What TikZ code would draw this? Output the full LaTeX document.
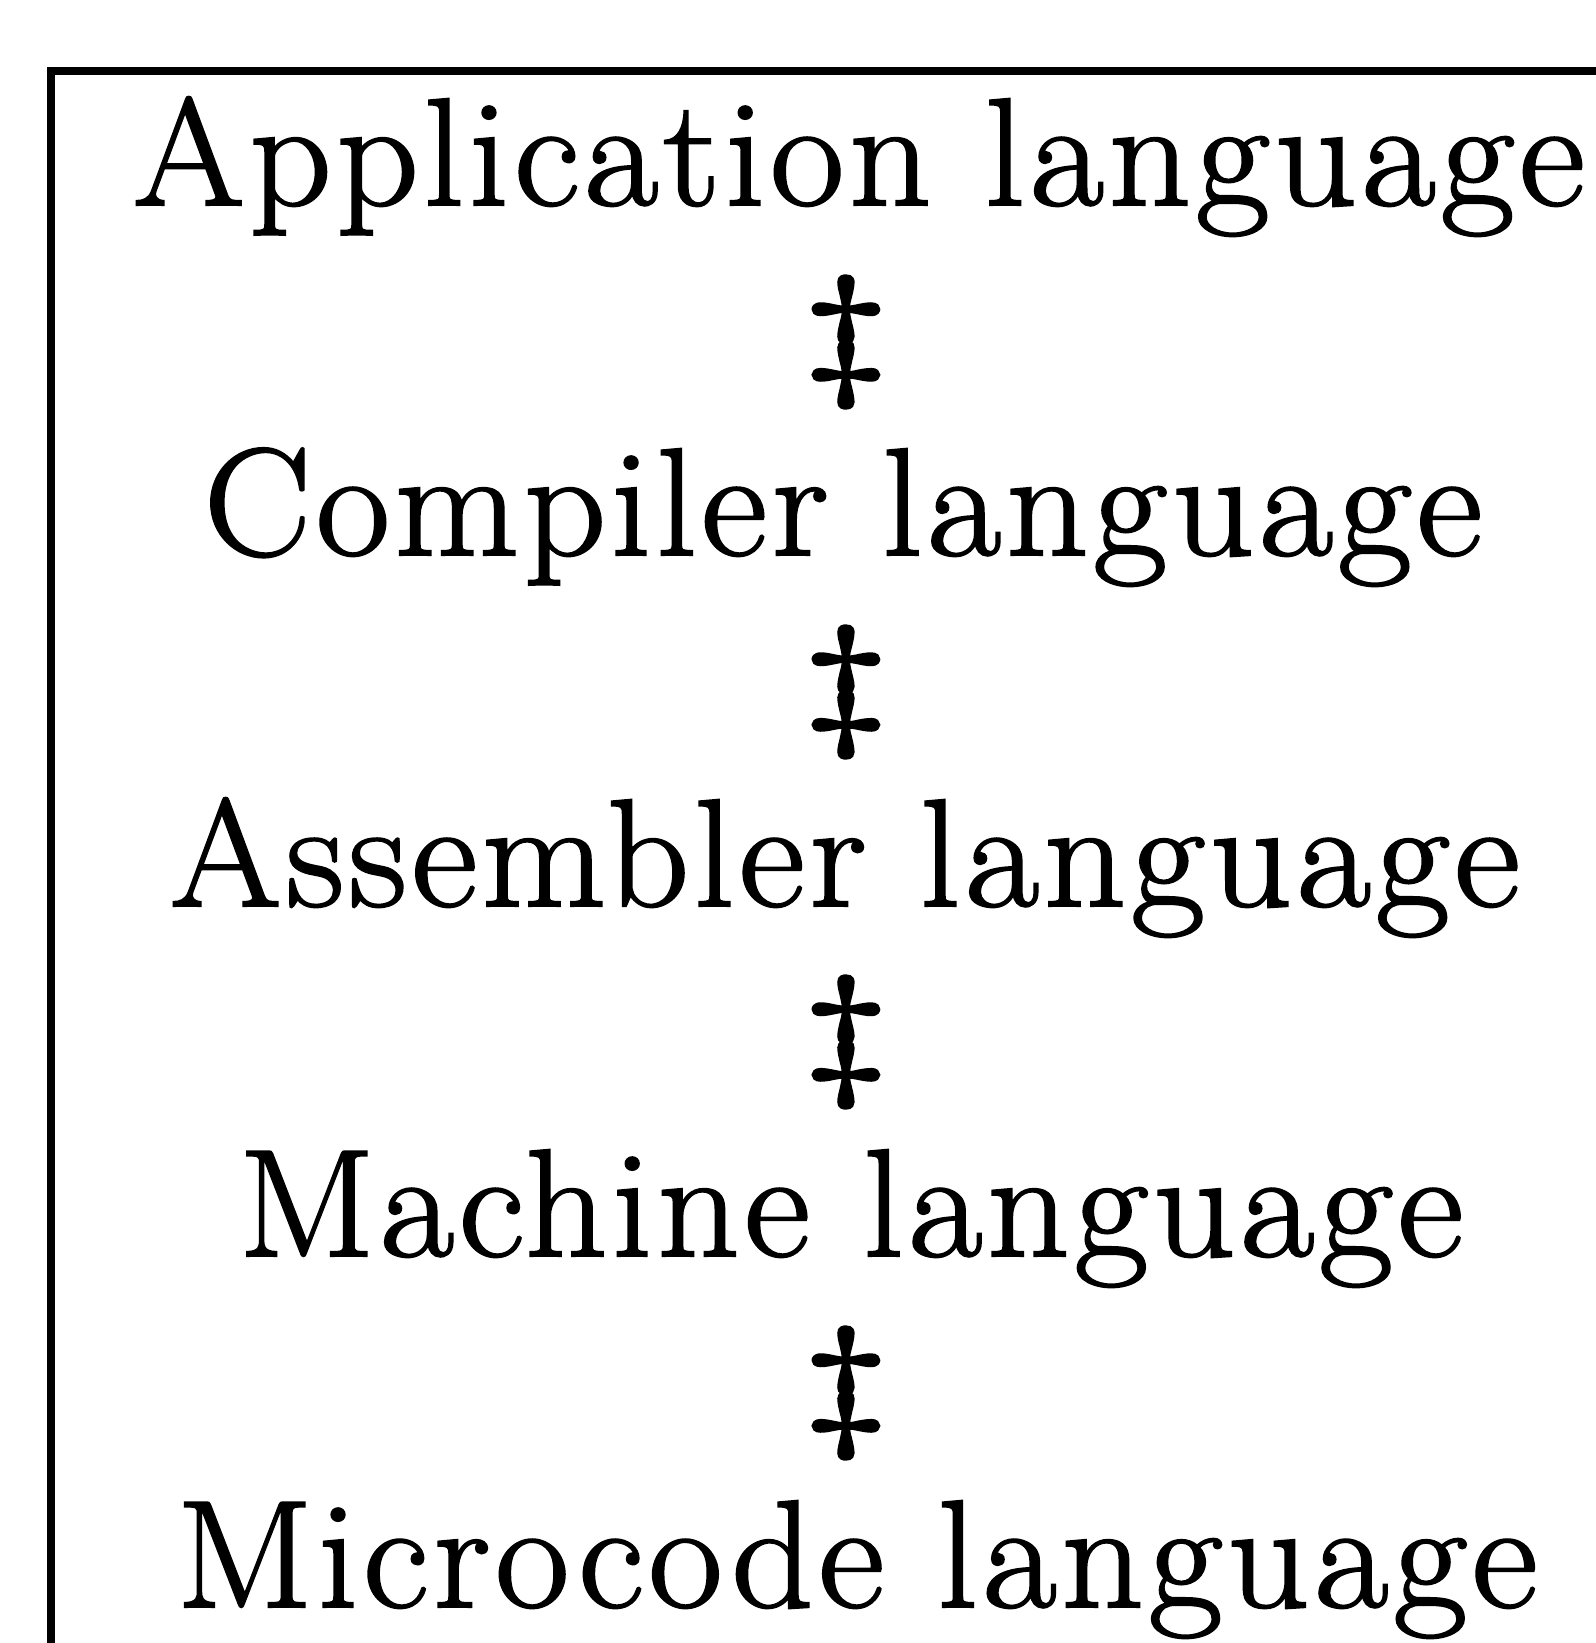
\documentclass[tikz,border=0pt]{standalone}
\usepackage{fontspec}
\setmainfont{Latin Modern Roman}
\newfontfamily\levelfont[FakeStretch=1.05,LetterSpace=3.3,FakeBold=1.5]{Latin Modern Roman}
\newfontfamily\daggerfont[FakeStretch=1.35,FakeBold=3]{Latin Modern Roman}
\begin{document}
\begin{tikzpicture}[x=0.5pt,y=-0.5pt,
  level/.style={anchor=base,inner sep=0pt,font=\levelfont\fontsize{76.5}{90}\selectfont},
  link/.style={anchor=center,inner sep=0pt,font=\daggerfont\fontsize{72}{80}\selectfont},
  frame/.style={line width=3.8pt}]
  \useasboundingbox (0,0) rectangle (1595,1643);
  % open frame: top rule and left rule
  \draw[frame] (1600,71) -| (51,1650);
  % language levels
  \node[level] (app) at (859,205) {Application language};
  \node[level] (comp) at (843,555) {Compiler language};
  \node[level] (asm) at (845,906) {Assembler language};
  \node[level] (mach) at (851,1256) {Machine language};
  \node[level] (micro) at (857,1607) {Microcode language};
  % double daggers between the levels
  \node[link] (d1) at (846,342) {‡};
  \node[link] (d2) at (846,692) {‡};
  \node[link] (d3) at (846,1042) {‡};
  \node[link] (d4) at (846,1393) {‡};
\end{tikzpicture}
\end{document}
